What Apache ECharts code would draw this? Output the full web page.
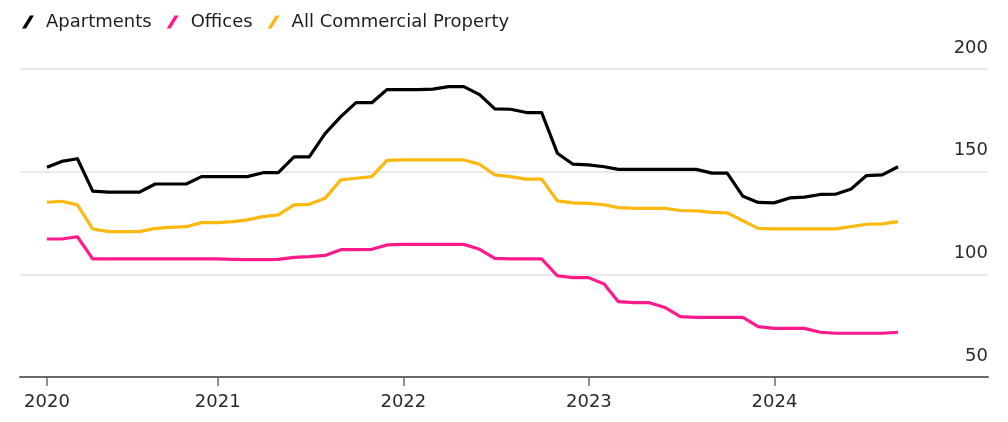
<!DOCTYPE html>
<html>
<head>
<meta charset="utf-8">
<script src="https://cdn.jsdelivr.net/npm/echarts@6/dist/echarts.min.js"></script>
<style>
  html, body { margin: 0; padding: 0; background: #ffffff; }
  #chart { width: 1008px; height: 422px; }
</style>
</head>
<body>
<div id="chart"></div>
<script>
// Price indexes, month-end readings from Jan 2020 to Aug 2024
const firstYear = 2020;
const firstMonth = 1;

const apartments = [
  152.2, 155.0, 156.3, 140.5, 140.0, 140.0, 140.0, 144.0, 144.0, 144.0, 147.6, 147.6,
  147.6, 147.6, 149.5, 149.5, 157.2, 157.2, 168.5, 176.8, 183.6, 183.6, 190.0, 190.0,
  190.0, 190.2, 191.4, 191.4, 187.5, 180.6, 180.4, 178.8, 178.8, 159.0, 153.7, 153.3,
  152.4, 151.1, 151.1, 151.1, 151.1, 151.1, 151.1, 149.3, 149.3, 138.0, 135.0, 134.8,
  137.2, 137.6, 138.9, 139.0, 141.6, 148.1, 148.4, 152.4
];

const offices = [
  117.2, 117.2, 118.3, 107.5, 107.5, 107.5, 107.5, 107.5, 107.5, 107.5, 107.5, 107.5,
  107.3, 107.2, 107.2, 107.3, 108.3, 108.6, 109.2, 112.0, 112.0, 112.2, 114.3, 114.6,
  114.6, 114.6, 114.6, 114.6, 112.2, 107.8, 107.5, 107.5, 107.5, 99.3, 98.4, 98.4,
  95.3, 86.7, 86.2, 86.2, 83.8, 79.4, 79.0, 79.0, 79.0, 79.0, 74.5, 73.7,
  73.7, 73.7, 71.8, 71.3, 71.3, 71.3, 71.3, 71.8
];

const allCommercial = [
  135.1, 135.6, 133.8, 122.1, 120.8, 120.8, 120.8, 122.4, 122.9, 123.2, 125.2, 125.2,
  125.7, 126.5, 128.1, 129.0, 133.8, 134.1, 137.0, 146.0, 146.8, 147.6, 155.5, 155.7,
  155.7, 155.7, 155.7, 155.7, 153.6, 148.4, 147.6, 146.4, 146.4, 135.8, 134.8, 134.6,
  133.9, 132.5, 132.1, 132.1, 132.1, 131.1, 130.9, 130.2, 129.9, 126.1, 122.4, 122.1,
  122.1, 122.1, 122.1, 122.1, 123.2, 124.4, 124.6, 125.7
];

const seriesNames = ['Apartments', 'Offices', 'All Commercial Property'];
const seriesColors = ['#000000', '#ff1a8c', '#fbb80f'];

// Year ticks along the date axis (the first one sits on the first reading)
const yearTickDates = ['2020-01-31', '2021-01-01', '2022-01-01', '2023-01-01', '2024-01-01'];
const yearTickLabels = ['2020', '2021', '2022', '2023', '2024'];

const yTickValues = [50, 100, 150, 200];

function toTime(s) {
  const p = s.split('-').map(Number);
  return Date.UTC(p[0], p[1] - 1, p[2]);
}

// month-end timestamps for each reading
const monthEnds = apartments.map((_, i) => {
  const m = firstMonth - 1 + i;
  return Date.UTC(firstYear, m + 1, 0);
});

function pairs(values) {
  return values.map((v, i) => [monthEnds[i], v]);
}

const tickTimes = yearTickDates.map(toTime);

// slanted stroke used as the legend key
const legendIcon = 'path://M0,13 L8,0 L12,0 L4,13 Z';
const font = 'DejaVu Sans';

const chart = echarts.init(document.getElementById('chart'), null, { renderer: 'canvas' });

chart.setOption({
  animation: false,
  backgroundColor: '#ffffff',
  textStyle: { fontFamily: font },
  legend: {
    left: 17,
    top: 8,
    itemWidth: 12,
    itemHeight: 14,
    itemGap: 15,
    icon: legendIcon,
    selectedMode: false,
    textStyle: { fontFamily: font, fontSize: 18, color: '#1e1e1e', padding: [0, 0, 0, 7] },
    data: seriesNames.map((n, i) => ({ name: n, itemStyle: { color: seriesColors[i] } }))
  },
  grid: { left: 20, right: 20, top: 69, bottom: 45, containLabel: false },
  xAxis: {
    type: 'value',
    min: toTime('2019-12-09'),
    max: toTime('2025-02-24'),
    scale: true,
    axisLine: { show: true, lineStyle: { color: '#6a6a6a', width: 2 } },
    axisTick: {
      show: true,
      length: 9,
      customValues: tickTimes,
      lineStyle: { color: '#6a6a6a', width: 1.5 }
    },
    axisLabel: {
      show: true,
      customValues: tickTimes,
      margin: 16,
      fontFamily: font,
      fontSize: 18,
      color: '#2a2a2a',
      formatter: function (value) {
        const idx = tickTimes.indexOf(value);
        return idx >= 0 ? yearTickLabels[idx] : '';
      }
    },
    splitLine: { show: false }
  },
  yAxis: {
    type: 'value',
    position: 'right',
    min: 50,
    max: 200,
    interval: 50,
    axisLine: { show: false },
    axisTick: { show: false },
    axisLabel: {
      inside: true,
      margin: 0,
      fontFamily: font,
      fontSize: 18,
      color: '#2a2a2a',
      verticalAlign: 'bottom',
      lineHeight: 18,
      padding: [0, 0, 12, 0],
      formatter: function (v) { return yTickValues.indexOf(v) >= 0 ? String(v) : ''; }
    },
    splitLine: { show: true, lineStyle: { color: '#e2e2e2', width: 1.5 } }
  },
  series: [
    { name: seriesNames[0], data: pairs(apartments) },
    { name: seriesNames[1], data: pairs(offices) },
    { name: seriesNames[2], data: pairs(allCommercial) }
  ].map((s, i) => ({
    type: 'line',
    name: s.name,
    data: s.data,
    showSymbol: false,
    symbol: 'none',
    z: 3 - i,
    lineStyle: { color: seriesColors[i], width: 3.2, join: 'round' },
    itemStyle: { color: seriesColors[i] }
  }))
});
</script>
</body>
</html>
